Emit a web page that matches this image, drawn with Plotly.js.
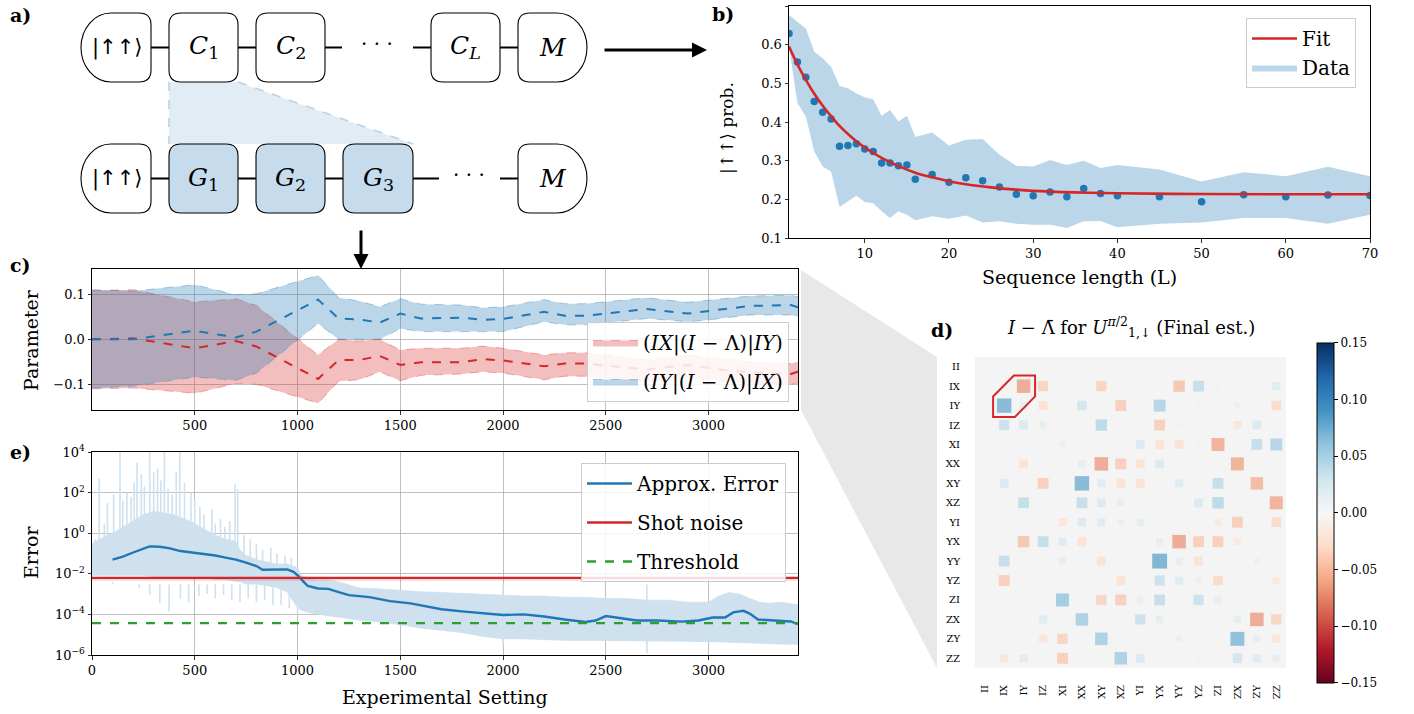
<!DOCTYPE html>
<html><head><meta charset="utf-8">
<script src="https://cdn.plot.ly/plotly-3.0.1.min.js"></script>
<style>html,body{margin:0;padding:0;background:#fff}#plot{width:1414px;height:714px}</style>
</head><body><div id="plot"></div>
<script>
// ---------- Panel b : sequence-length decay ----------
const seqLen   = [1,2,3,4,5,6,7,8,9,10,11,12,13,14,15,16,18,20,22,24,26,28,30,32,34,36,38,40,45,50,55,60,65,70];
const seqProb  = [0.629,0.555,0.516,0.453,0.425,0.408,0.337,0.339,0.344,0.330,0.324,0.294,0.294,0.287,0.289,0.252,0.264,0.244,0.256,0.248,0.232,0.213,0.209,0.219,0.207,0.228,0.215,0.209,0.207,0.194,0.212,0.207,0.211,0.210];
const seqUpper = [0.677,0.660,0.642,0.582,0.565,0.543,0.493,0.487,0.474,0.464,0.459,0.416,0.431,0.401,0.416,0.361,0.373,0.339,0.354,0.356,0.315,0.287,0.285,0.302,0.289,0.300,0.281,0.289,0.277,0.246,0.270,0.260,0.284,0.260];
const seqLower = [0.595,0.449,0.414,0.324,0.285,0.272,0.180,0.195,0.209,0.193,0.190,0.169,0.152,0.169,0.160,0.146,0.156,0.150,0.158,0.140,0.143,0.137,0.134,0.134,0.126,0.143,0.144,0.128,0.137,0.140,0.152,0.152,0.137,0.160];
const fitLen   = [1,2,3,4,5,6,7,8,9,10,12,14,16,18,20,22,25,28,30,35,40,50,60,70];
const fitProb  = [0.595,0.549,0.509,0.473,0.442,0.415,0.390,0.369,0.350,0.334,0.307,0.286,0.269,0.257,0.247,0.239,0.231,0.225,0.222,0.218,0.2156,0.2137,0.213,0.213];

// ---------- Panel c : parameter estimates ----------
const cSetting = [0,200,500,700,800,1100,1200,1300,1400,1500,1600,1800,1900,2000,2200,2300,2400,2700,2900,3000,3200,3400,3435];
const iyMean = [0.0,0.0,0.019,0.004,0.017,0.088,0.046,0.044,0.037,0.057,0.046,0.048,0.043,0.045,0.061,0.052,0.052,0.067,0.057,0.063,0.074,0.076,0.071];
const iyHi   = [0.110,0.107,0.121,0.099,0.101,0.142,0.092,0.085,0.072,0.090,0.078,0.076,0.070,0.072,0.088,0.079,0.079,0.092,0.082,0.087,0.096,0.098,0.094];
const iyLo   = [-0.108,-0.104,-0.084,-0.091,-0.075,0.035,0.0,0.0,0.0,0.024,0.017,0.017,0.017,0.017,0.039,0.032,0.032,0.046,0.039,0.043,0.054,0.054,0.050];
const ixMean = [0.0,0.002,-0.020,-0.004,-0.016,-0.088,-0.046,-0.046,-0.037,-0.057,-0.051,-0.051,-0.044,-0.047,-0.060,-0.054,-0.054,-0.067,-0.057,-0.064,-0.074,-0.077,-0.072];
const ixHi   = [0.108,0.110,0.083,0.090,0.075,-0.035,0.0,-0.004,0.0,-0.024,-0.020,-0.020,-0.015,-0.020,-0.035,-0.030,-0.030,-0.045,-0.035,-0.040,-0.050,-0.054,-0.050];
const ixLo   = [-0.110,-0.108,-0.120,-0.098,-0.100,-0.142,-0.093,-0.090,-0.072,-0.092,-0.080,-0.077,-0.072,-0.075,-0.090,-0.082,-0.082,-0.095,-0.085,-0.090,-0.098,-0.100,-0.097];

// ---------- Panel e : error ----------
const eBandX  = [0,50,100,150,200,250,300,350,400,450,500,550,600,650,700,720,750,800,850,900,950,1000,1020,1050,1100,1150,1200,1300,1400,1500,1600,1700,1800,1900,2000,2100,2200,2300,2400,2500,2600,2700,2800,2900,3000,3050,3100,3150,3200,3250,3300,3350,3435];
const eBandHi = [0.3,0.6,1,2,4,8,12,10,8,5,3,1.5,0.8,0.5,0.4,0.15,0.08,0.05,0.04,0.03,0.03,0.02,0.008,0.006,0.005,0.005,0.004,0.002,0.0018,0.0015,0.0013,0.0012,0.0011,0.001,0.0009,0.0008,0.0008,0.0007,0.0007,0.0006,0.0006,0.0005,0.0005,0.0004,0.0004,0.0008,0.0012,0.001,0.0006,0.0004,0.00035,0.0004,0.0003];
const eBandLo = [0.008,0.008,0.008,0.008,0.008,0.008,0.007,0.007,0.007,0.007,0.006,0.006,0.005,0.005,0.004,0.004,0.003,0.003,0.0025,0.002,0.0012,0.0002,0.00015,0.00012,0.0001,0.00008,0.00007,0.00005,0.00004,0.00003,0.00002,0.000015,0.000012,0.000008,0.000006,0.000006,0.0000055,0.000005,0.000005,0.000005,0.000005,0.0000048,0.0000046,0.0000045,0.0000045,0.0000042,0.000004,0.000004,0.0000038,0.0000036,0.0000034,0.0000033,0.0000032];
const eSpikeUpX = [15,35,60,75,105,136,150,170,190,205,219,240,255,281,300,319,335,352,370,390,410,427,450,482,500,525,545,583,600,625,646,670,696,709,740,770,800,830,870,900,940,970];
const eSpikeUpY = [0.5,500,3,30,80,10000,40,100,60,300,3000,800,200,10000,1000,1500,400,10000,150,80,1000,10000,300,100,40,20,8,15,3,5,2,4,250,150,0.8,0.5,0.3,0.15,0.2,0.1,0.08,0.06];
const eSpikeDnX = [40,100,160,230,281,330,375,430,470,520,560,600,640,680,720,760,800,840,880,920,960,1000,2000,2700];
const eSpikeDnY = [0.003,0.004,0.003,0.002,0.0009,0.00035,0.00014,0.0006,0.0004,0.0008,0.001,0.0006,0.0009,0.0005,0.0004,0.0006,0.0004,0.0005,0.0003,0.0003,0.0002,0.0001,0.000003,0.0000012];
const eLineX = [100,150,200,250,280,330,380,430,500,550,600,650,700,750,800,830,900,950,980,1000,1030,1050,1100,1150,1200,1250,1350,1450,1550,1620,1700,1800,1900,2000,2100,2200,2300,2400,2450,2500,2550,2650,2750,2870,2950,3020,3080,3120,3170,3200,3240,3320,3400,3435];
const eLineY = [0.0501,0.0708,0.112,0.178,0.224,0.214,0.178,0.132,0.107,0.1,0.0794,0.0631,0.0501,0.0355,0.024,0.0158,0.0166,0.0166,0.0126,0.0085,0.004,0.0025,0.0019,0.0018,0.00126,0.00089,0.00071,0.00045,0.00035,0.00025,0.00018,0.00014,0.00011,0.000093,0.0001,0.000079,0.000056,0.000042,0.00005,0.000083,0.00007,0.00005,0.00005,0.000044,0.00005,0.00007,0.00007,0.000126,0.00015,0.00011,0.000056,0.00005,0.000045,0.000033];
const shotX = [0,3435];
const shotLevel = [0.0063,0.0063];
const shotLow = [0.0045,0.0045];
const thresholdLevel = [0.000037,0.000037];

// ---------- Panel d : I - Lambda matrix ----------
const pauli = ['II','IX','IY','IZ','XI','XX','XY','XZ','YI','YX','YY','YZ','ZI','ZX','ZY','ZZ'];
const rowII = [0,0,0,0,0,0,0,0,0,0,0,0,0,0,0,0];
const rowIX = [0.004,0.012,-0.07,-0.04,-0.008,-0.006,-0.04,0.002,0.002,-0.004,-0.05,0.045,0.008,0,-0.008,0.025];
const rowIY = [0.002,0.08,0.02,-0.03,0,0.035,0.002,-0.045,0,0.055,-0.002,0.008,0,0.015,0,-0.035];
const rowIZ = [0,0.04,0.03,0.02,0.002,-0.003,0.05,-0.01,0,-0.045,-0.01,-0.01,-0.002,-0.025,0.03,0];
const rowXI = [-0.008,-0.008,-0.002,0,0.015,0,0,0,0.03,-0.03,-0.03,-0.01,-0.065,-0.008,0.045,0.055];
const rowXX = [-0.006,0.002,-0.03,0,0.002,0.02,-0.07,-0.045,-0.03,0.03,0.002,0,0,-0.065,-0.008,0];
const rowXY = [0,0.03,-0.004,-0.045,0,0.08,0.025,-0.03,-0.03,-0.003,0.025,-0.005,0.045,0.008,-0.06,-0.002];
const rowXZ = [0,-0.006,0.045,-0.005,0,0.045,0.028,0.02,-0.005,0,0.003,0.03,0.05,0,0,-0.065];
const rowYI = [-0.008,0,-0.002,0,-0.025,0.028,0.025,0.015,0.02,0.003,0.003,0.003,-0.02,-0.045,-0.008,-0.035];
const rowYX = [0.002,0,-0.05,0.045,0.025,-0.03,-0.008,0.002,0.002,0.02,-0.07,-0.045,-0.045,-0.02,0,-0.002];
const rowYY = [0,0.045,-0.004,0.004,0.02,0,-0.03,-0.002,0,0.085,0.02,-0.03,-0.003,0,-0.015,0.004];
const rowYZ = [0.002,-0.045,-0.008,-0.008,0.006,0,0,-0.03,0,0.04,0.025,0.015,-0.035,0.004,-0.004,-0.02];
const rowZI = [0.002,0.004,0,-0.003,0.065,0.006,-0.04,-0.045,0.015,0.045,0.002,0.04,0.02,0.003,0,0.002];
const rowZX = [0.005,0,-0.006,0.025,0.002,0.06,0.004,0,0.04,0.02,0,0,0.002,0.02,-0.07,-0.04];
const rowZY = [0.002,0.006,0,-0.025,-0.04,0.002,0.06,0.002,0.006,0,0.015,-0.006,0,0.075,0.02,-0.025];
const rowZZ = [0,-0.025,0.025,0,-0.045,0,0.002,0.06,0.03,-0.004,0,0.01,0,0.035,0.025,0.02];
const cbTicks = [-0.15,-0.10,-0.05,0.0,0.05,0.10,0.15];

// ================= drawing =================
const W = 1414, H = 714;
const PX = x => x / W, PY = y => 1 - y / H;
const pt = (x, y) => PX(x).toFixed(5) + ',' + PY(y).toFixed(5);
const BLUE = '#1f77b4', RED = '#d62728', GREEN = '#2ca02c';
const FONT = 'DejaVu Serif, DejaVu Sans, serif';
const rdbu = [[0,'#67001f'],[0.1,'#b2182b'],[0.2,'#d6604d'],[0.3,'#f4a582'],[0.4,'#fddbc7'],[0.5,'#f7f7f7'],[0.6,'#d1e5f0'],[0.7,'#92c5de'],[0.8,'#4393c3'],[0.9,'#2166ac'],[1,'#053061']];

const traces = [];
// b
traces.push({x: seqLen, y: seqLower, xaxis:'x', yaxis:'y', mode:'lines', line:{width:0, color:'rgba(0,0,0,0)'}, showlegend:false, hoverinfo:'skip'});
traces.push({x: seqLen, y: seqUpper, xaxis:'x', yaxis:'y', mode:'lines', fill:'tonexty', fillcolor:'rgba(31,119,180,0.3)', line:{width:0, color:'rgba(31,119,180,0.3)'}, name:'Data', legend:'legend', legendrank:2});
traces.push({x: seqLen, y: seqProb, xaxis:'x', yaxis:'y', mode:'markers', marker:{color:BLUE, size:7.5}, showlegend:false});
traces.push({x: fitLen, y: fitProb, xaxis:'x', yaxis:'y', mode:'lines', line:{color:RED, width:2.6, shape:'spline'}, name:'Fit', legend:'legend', legendrank:1});

// c
const mathIX = '(<i>IX</i>|(<i>I</i> − Λ)|<i>IY</i>)';
const mathIY = '(<i>IY</i>|(<i>I</i> − Λ)|<i>IX</i>)';
traces.push({x: cSetting, y: ixLo, xaxis:'x2', yaxis:'y2', mode:'lines', line:{color:'rgba(214,39,40,0.35)', width:1, dash:'dash'}, showlegend:false, legendgroup:'r'});
traces.push({x: cSetting, y: ixHi, xaxis:'x2', yaxis:'y2', mode:'lines', fill:'tonexty', fillcolor:'rgba(214,39,40,0.3)', line:{color:'rgba(214,39,40,0.35)', width:1, dash:'dash'}, name:mathIX, legend:'legend2', legendgroup:'r'});
traces.push({x: cSetting, y: iyLo, xaxis:'x2', yaxis:'y2', mode:'lines', line:{color:'rgba(31,119,180,0.35)', width:1, dash:'dash'}, showlegend:false, legendgroup:'b'});
traces.push({x: cSetting, y: iyHi, xaxis:'x2', yaxis:'y2', mode:'lines', fill:'tonexty', fillcolor:'rgba(31,119,180,0.3)', line:{color:'rgba(31,119,180,0.35)', width:1, dash:'dash'}, name:mathIY, legend:'legend2', legendgroup:'b'});
traces.push({x: cSetting, y: ixMean, xaxis:'x2', yaxis:'y2', mode:'lines', line:{color:RED, width:2, dash:'dash'}, showlegend:false});
traces.push({x: cSetting, y: iyMean, xaxis:'x2', yaxis:'y2', mode:'lines', line:{color:BLUE, width:2, dash:'dash'}, showlegend:false});

// e
const spUx = [], spUy = [], spDx = [], spDy = [];
eSpikeUpX.forEach((x, i) => { spUx.push(x, x, null); spUy.push(0.01, eSpikeUpY[i], null); });
eSpikeDnX.forEach((x, i) => { spDx.push(x, x, null); spDy.push(0.003, eSpikeDnY[i], null); });
const lightBlue = '#cfe1ef';
traces.push({x: eBandX, y: eBandLo, xaxis:'x3', yaxis:'y3', mode:'lines', line:{width:0, color:'rgba(0,0,0,0)'}, showlegend:false});
traces.push({x: eBandX, y: eBandHi, xaxis:'x3', yaxis:'y3', mode:'lines', fill:'tonexty', fillcolor:lightBlue, line:{width:0.8, color:lightBlue}, showlegend:false});
traces.push({x: spUx, y: spUy, xaxis:'x3', yaxis:'y3', mode:'lines', line:{width:1.6, color:lightBlue}, showlegend:false, connectgaps:false});
traces.push({x: spDx, y: spDy, xaxis:'x3', yaxis:'y3', mode:'lines', line:{width:1.6, color:lightBlue}, showlegend:false, connectgaps:false});
traces.push({x: shotX, y: shotLow, xaxis:'x3', yaxis:'y3', mode:'lines', line:{width:0, color:'rgba(0,0,0,0)'}, showlegend:false});
traces.push({x: shotX, y: shotLevel, xaxis:'x3', yaxis:'y3', mode:'lines', fill:'tonexty', fillcolor:'rgba(214,39,40,0.18)', line:{width:0, color:'rgba(0,0,0,0)'}, showlegend:false});
traces.push({x: eLineX, y: eLineY, xaxis:'x3', yaxis:'y3', mode:'lines', line:{color:BLUE, width:2.4}, name:'Approx. Error', legend:'legend3', legendgroup:'e1'});
traces.push({x: shotX, y: shotLevel, xaxis:'x3', yaxis:'y3', mode:'lines', line:{color:RED, width:2.4}, name:'Shot noise', legend:'legend3', legendgroup:'e2'});
traces.push({x: shotX, y: thresholdLevel, xaxis:'x3', yaxis:'y3', mode:'lines', line:{color:GREEN, width:2.4, dash:'dash'}, name:'Threshold', legend:'legend3', legendgroup:'e3'});

// d
const matrix = [rowII,rowIX,rowIY,rowIZ,rowXI,rowXX,rowXY,rowXZ,rowYI,rowYX,rowYY,rowYZ,rowZI,rowZX,rowZY,rowZZ];
const hx = [], hy = [], hv = [], hs = [];
matrix.forEach((row, r) => row.forEach((v, c) => {
  if (v !== 0) { hx.push(c); hy.push(r); hv.push(v); hs.push(51 * Math.sqrt(Math.abs(v))); }
}));
traces.push({x: hx, y: hy, xaxis:'x4', yaxis:'y4', mode:'markers', showlegend:false,
  marker:{symbol:'square', size:hs, color:hv, colorscale:rdbu, cmin:-0.15, cmax:0.15, line:{width:0},
    showscale:true,
    colorbar:{x:PX(1317), xanchor:'left', y:PY(512.7), yanchor:'middle', len:340/H, lenmode:'fraction',
      thickness:17, thicknessmode:'pixels', xpad:0, ypad:0, outlinewidth:1, outlinecolor:'#000',
      tickvals:cbTicks, tickformat:'.2f', ticks:'outside', ticklen:4, tickcolor:'#000', tickfont:{size:12}}}});

// ---------- axes ----------
const axBase = {showline:true, mirror:true, linecolor:'#000', linewidth:1, ticks:'outside', ticklen:3.5, tickwidth:0.8, tickcolor:'#000', zeroline:false, showgrid:false, tickfont:{size:13}, fixedrange:true};
const gridOn = {showgrid:true, gridcolor:'#b0b0b0', gridwidth:0.8};

// ---------- shapes (panel a diagram, connector wedge, heatmap decorations) ----------
function rrect(x0,y0,x1,y1,r){
  return `M${pt(x0+r,y0)} L${pt(x1-r,y0)} Q${pt(x1,y0)} ${pt(x1,y0+r)} L${pt(x1,y1-r)} Q${pt(x1,y1)} ${pt(x1-r,y1)} L${pt(x0+r,y1)} Q${pt(x0,y1)} ${pt(x0,y1-r)} L${pt(x0,y0+r)} Q${pt(x0,y0)} ${pt(x0+r,y0)} Z`;
}
function leftRound(x0,y0,x1,y1,rx,r){
  const cy=(y0+y1)/2, ry=(y1-y0)/2, k=0.5523, cx=x0+rx;
  return `M${pt(cx,y0)} L${pt(x1-r,y0)} Q${pt(x1,y0)} ${pt(x1,y0+r)} L${pt(x1,y1-r)} Q${pt(x1,y1)} ${pt(x1-r,y1)} L${pt(cx,y1)} C${pt(cx-k*rx,y1)} ${pt(x0,cy+k*ry)} ${pt(x0,cy)} C${pt(x0,cy-k*ry)} ${pt(cx-k*rx,y0)} ${pt(cx,y0)} Z`;
}
function rightRound(x0,y0,x1,y1,rx,r){
  const cy=(y0+y1)/2, ry=(y1-y0)/2, k=0.5523, cx=x1-rx;
  return `M${pt(x0+r,y0)} L${pt(cx,y0)} C${pt(cx+k*rx,y0)} ${pt(x1,cy-k*ry)} ${pt(x1,cy)} C${pt(x1,cy+k*ry)} ${pt(cx+k*rx,y1)} ${pt(cx,y1)} L${pt(x0+r,y1)} Q${pt(x0,y1)} ${pt(x0,y1-r)} L${pt(x0,y0+r)} Q${pt(x0,y0)} ${pt(x0+r,y0)} Z`;
}
const shapes = [];
const pshape = (path, fill, lw, col, extra) => shapes.push(Object.assign({type:'path', xref:'paper', yref:'paper', path, fillcolor:fill, line:{width:lw, color:col}}, extra||{}));
const pline = (x0,y0,x1,y1,lw,col,dash) => shapes.push({type:'line', xref:'paper', yref:'paper', x0:PX(x0), y0:PY(y0), x1:PX(x1), y1:PY(y1), line:{width:lw, color:col, dash:dash||'solid'}});

// connector wedge c -> d
pshape(`M${pt(801,270)} L${pt(937,357)} L${pt(937,668)} L${pt(801,410)} Z`, '#e8e8e8', 0, 'rgba(0,0,0,0)', {layer:'below'});
// panel a wedge
pshape(`M${pt(169,82)} L${pt(238,82)} L${pt(413,144)} L${pt(169,144)} Z`, '#e2ecf5', 0, 'rgba(0,0,0,0)');
pline(169,82,169,144,1.6,'#b9d3e8','dash');
pline(238,82,413,144,1.6,'#b9d3e8','dash');

const T0=13, T1=82, B0=144, B1=213;
const tm=(T0+T1)/2, bm=(B0+B1)/2;
[[151,169],[238,256],[325,342],[413,431],[500,518]].forEach(s=>pline(s[0],tm,s[1],tm,2,'#000'));
[[151,169],[238,256],[325,343],[413,439],[500,518]].forEach(s=>pline(s[0],bm,s[1],bm,2,'#000'));
pshape(leftRound(81,T0,151,T1,30,12), '#fff', 1.1, '#000');
pshape(rrect(169,T0,238,T1,12), '#fff', 1.1, '#000');
pshape(rrect(256,T0,325,T1,12), '#fff', 1.1, '#000');
pshape(rrect(431,T0,500,T1,12), '#fff', 1.1, '#000');
pshape(rightRound(518,T0,587,T1,30,12), '#fff', 1.1, '#000');
pshape(leftRound(81,B0,151,B1,30,12), '#fff', 1.1, '#000');
pshape(rrect(169,B0,238,B1,12), '#c6dbec', 1.1, '#000');
pshape(rrect(256,B0,325,B1,12), '#c6dbec', 1.1, '#000');
pshape(rrect(343,B0,413,B1,12), '#c6dbec', 1.1, '#000');
pshape(rightRound(518,B0,587,B1,30,12), '#fff', 1.1, '#000');

shapes.push({type:'rect', xref:'x4', yref:'y4', x0:-0.5, x1:15.5, y0:-0.5, y1:15.5, fillcolor:'#f4f4f4', line:{width:0}, layer:'below'});
shapes.push({type:'path', xref:'x4', yref:'y4', path:'M1.5,0.45 L2.59,0.45 L2.59,1.53 L1.55,2.59 L0.43,2.59 L0.43,1.53 Z', line:{color:RED, width:2}, fillcolor:'rgba(0,0,0,0)'});

// ---------- annotations ----------
const ann = [];
const txt = (x, y, text, size, extra) => ann.push(Object.assign({xref:'paper', yref:'paper', x:PX(x), y:PY(y), text, showarrow:false, font:{size}, xanchor:'center', yanchor:'middle'}, extra||{}));
txt(20,15,'<b>a)</b>',19); txt(723,14,'<b>b)</b>',19); txt(20,265,'<b>c)</b>',19); txt(942,330,'<b>d)</b>',19); txt(20,452,'<b>e)</b>',19);
const ketFont = {family:'DejaVu Sans, DejaVu Serif', size:21, color:'#000'};
txt(117,tm,'|↑↑⟩',21,{font:ketFont}); txt(203.5,tm,'<i>C</i><sub>1</sub>',25); txt(290.5,tm,'<i>C</i><sub>2</sub>',25);
txt(377,tm-4,'· · ·',20); txt(465.5,tm,'<i>C</i><sub><i>L</i></sub>',25); txt(552.5,tm,'<i>M</i>',25);
txt(117,bm,'|↑↑⟩',21,{font:ketFont}); txt(203.5,bm,'<i>G</i><sub>1</sub>',25); txt(290.5,bm,'<i>G</i><sub>2</sub>',25);
txt(378,bm,'<i>G</i><sub>3</sub>',25); txt(469,bm-4,'· · ·',20); txt(552.5,bm,'<i>M</i>',25);
ann.push({xref:'paper', yref:'paper', x:PX(707), y:PY(50), ax:-104, ay:0, text:'', showarrow:true, arrowhead:2, arrowsize:1, arrowwidth:3, arrowcolor:'#000', standoff:0, startstandoff:0});
ann.push({xref:'paper', yref:'paper', x:PX(361), y:PY(269), ax:0, ay:-40, text:'', showarrow:true, arrowhead:2, arrowsize:1, arrowwidth:3, arrowcolor:'#000', standoff:0, startstandoff:0});
txt(1079,277,'Sequence length (L)',19);
txt(727,128,'|↑↑⟩ prob.',17,{textangle:-90, font:{family:'DejaVu Serif, DejaVu Sans', size:17, color:'#000'}});
txt(31,340,'Parameter',19,{textangle:-90});
txt(31,553,'Error',19,{textangle:-90});
txt(445,697,'Experimental Setting',19);
txt(1131,327,'<i>I</i> − Λ̄ for <i>U</i><sup><i>π</i>/2</sup><sub>1,↓</sub> (Final est.)',18);

const legBase = {bgcolor:'rgba(255,255,255,0.85)', bordercolor:'#cccccc', borderwidth:1, itemwidth:45, traceorder:'grouped', tracegroupgap:10, xanchor:'right', yanchor:'top'};

const layout = {
  width:W, height:H, margin:{l:0,r:0,t:0,b:0,pad:0},
  paper_bgcolor:'#fff', plot_bgcolor:'rgba(0,0,0,0)',
  font:{family:FONT, color:'#000', size:13},
  hovermode:false,
  xaxis: Object.assign({}, axBase, {domain:[PX(789),PX(1370)], anchor:'y', range:[1,70], tickvals:[10,20,30,40,50,60,70]}),
  yaxis: Object.assign({}, axBase, {domain:[PY(238),PY(6)], anchor:'x', range:[0.1,0.7], tickvals:[0.1,0.2,0.3,0.4,0.5,0.6,0.7], tickformat:'.1f'}),
  xaxis2: Object.assign({}, axBase, gridOn, {domain:[PX(92),PX(798)], anchor:'y2', range:[0,3435], tickvals:[500,1000,1500,2000,2500,3000]}),
  yaxis2: Object.assign({}, axBase, gridOn, {domain:[PY(410),PY(269)], anchor:'x2', range:[-0.157,0.156], tickvals:[-0.1,0,0.1], tickformat:'.1f'}),
  xaxis3: Object.assign({}, axBase, gridOn, {domain:[PX(92),PX(798)], anchor:'y3', range:[0,3435], tickvals:[0,500,1000,1500,2000,2500,3000]}),
  yaxis3: Object.assign({}, axBase, gridOn, {domain:[PY(655),PY(452)], anchor:'x3', type:'log', range:[-6,4],
    tickvals:[1e-6,1e-4,1e-2,1,1e2,1e4], ticktext:['10<sup>−6</sup>','10<sup>−4</sup>','10<sup>−2</sup>','10<sup>0</sup>','10<sup>2</sup>','10<sup>4</sup>']}),
  xaxis4: {domain:[PX(975),PX(1286)], anchor:'y4', range:[-0.5,15.5], tickvals:pauli.map((_,i)=>i), ticktext:pauli, tickangle:-90, ticks:'', showline:false, showgrid:false, zeroline:false, tickfont:{size:10}, ticklabelstandoff:14, fixedrange:true},
  yaxis4: {domain:[PY(668),PY(357)], anchor:'x4', range:[15.5,-0.5], tickvals:pauli.map((_,i)=>i), ticktext:pauli, ticks:'', showline:false, showgrid:false, zeroline:false, tickfont:{size:10}, ticklabelstandoff:14, fixedrange:true},
  legend: Object.assign({}, legBase, {x:PX(1356), y:PY(18), font:{size:20}, traceorder:'normal'}),
  legend2: Object.assign({}, legBase, {x:PX(789), y:PY(322), font:{size:20}}),
  legend3: Object.assign({}, legBase, {x:PX(786), y:PY(463), font:{size:20}}),
  shapes, annotations: ann
};

Plotly.newPlot('plot', traces, layout, {staticPlot:true, displayModeBar:false});
</script>
</body></html>
